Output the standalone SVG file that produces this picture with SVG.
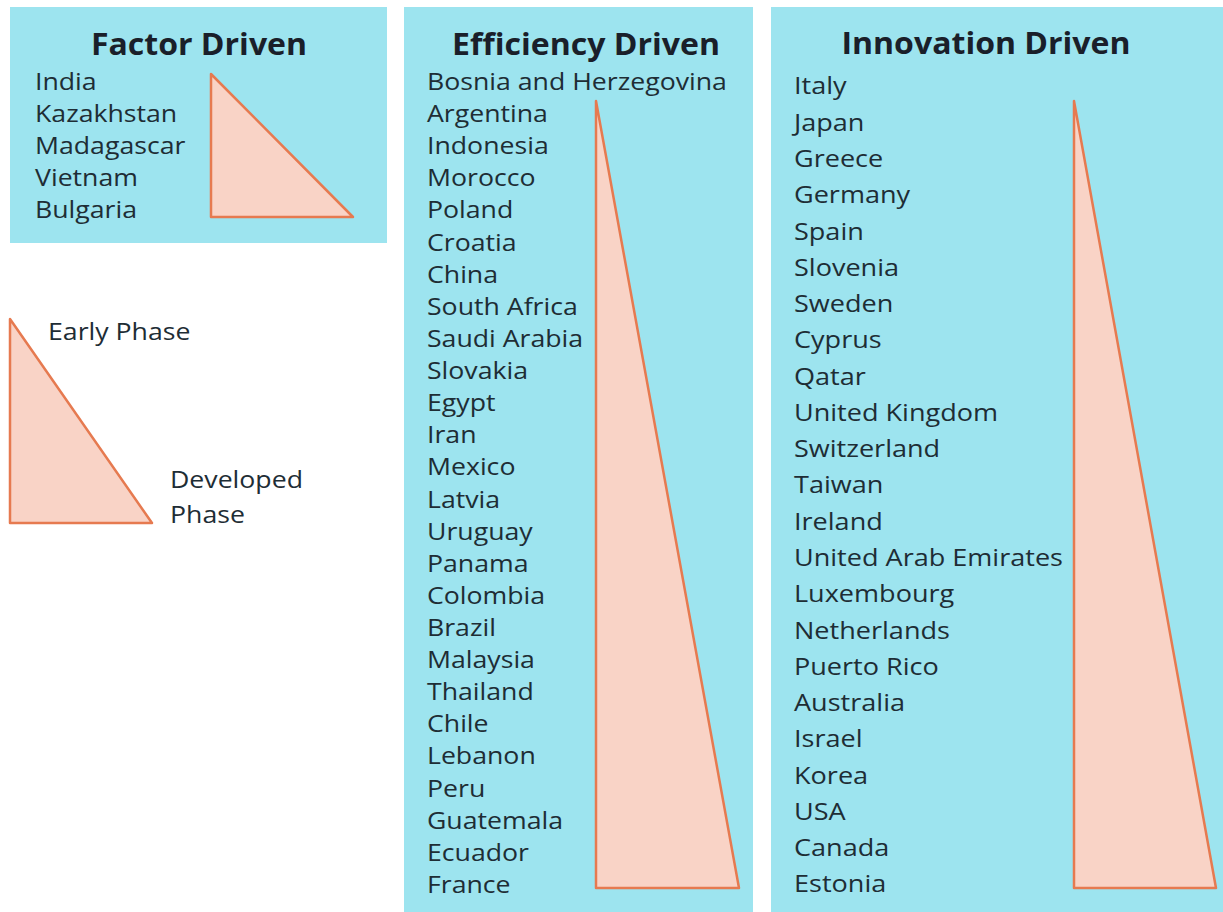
<svg xmlns="http://www.w3.org/2000/svg" width="1223" height="912" viewBox="0 0 1223 912">
<style>
.box{fill:#9de4ef}
.tri{fill:#f9d3c6;stroke:#e67a50;stroke-width:2.5;stroke-linejoin:round}
.t{font-family:"Open Sans","Noto Sans","DejaVu Sans",sans-serif;font-size:23.5px;fill:#1e2d35}
.ti{font-family:"Open Sans","Noto Sans","DejaVu Sans",sans-serif;font-size:24.5px;fill:#1e2d35}
.h{font-family:"Open Sans","Noto Sans","DejaVu Sans",sans-serif;font-size:30.5px;font-weight:bold;fill:#1a1f2a;text-anchor:middle}
</style>
<rect width="1223" height="912" fill="#ffffff"/>
<g id="factor">
<rect class="box" x="10" y="7" width="377" height="236"/>
<text class="h" transform="scale(1.05,1)" x="189.52" y="55">Factor Driven</text>
<polygon class="tri" points="211,74 211,217 353,217"/>
<g transform="scale(1.135,1)">
<text class="t" x="30.84" y="90.5">India</text>
<text class="t" x="30.84" y="122.5">Kazakhstan</text>
<text class="t" x="30.84" y="154.5">Madagascar</text>
<text class="t" x="30.84" y="186.5">Vietnam</text>
<text class="t" x="30.84" y="218.5">Bulgaria</text>
</g>
</g>
<g id="legend">
<polygon class="tri" points="10,319 10,523 152,523"/>
<g transform="scale(1.135,1)">
<text class="t" x="42.29" y="340">Early Phase</text>
<text class="t" x="149.78" y="488">Developed</text>
<text class="t" x="149.78" y="523">Phase</text>
</g>
</g>
<g id="efficiency">
<rect class="box" x="404" y="7" width="349" height="905"/>
<text class="h" transform="scale(1.05,1)" x="558.1" y="55">Efficiency Driven</text>
<polygon class="tri" points="596,101 596,888 739,888"/>
<g transform="scale(1.135,1)">
<text class="t" x="376.21" y="90">Bosnia and Herzegovina</text>
<text class="t" x="376.21" y="122.1">Argentina</text>
<text class="t" x="376.21" y="154.2">Indonesia</text>
<text class="t" x="376.21" y="186.4">Morocco</text>
<text class="t" x="376.21" y="218.5">Poland</text>
<text class="t" x="376.21" y="250.6">Croatia</text>
<text class="t" x="376.21" y="282.7">China</text>
<text class="t" x="376.21" y="314.8">South Africa</text>
<text class="t" x="376.21" y="347">Saudi Arabia</text>
<text class="t" x="376.21" y="379.1">Slovakia</text>
<text class="t" x="376.21" y="411.2">Egypt</text>
<text class="t" x="376.21" y="443.3">Iran</text>
<text class="t" x="376.21" y="475.4">Mexico</text>
<text class="t" x="376.21" y="507.6">Latvia</text>
<text class="t" x="376.21" y="539.7">Uruguay</text>
<text class="t" x="376.21" y="571.8">Panama</text>
<text class="t" x="376.21" y="603.9">Colombia</text>
<text class="t" x="376.21" y="636">Brazil</text>
<text class="t" x="376.21" y="668.2">Malaysia</text>
<text class="t" x="376.21" y="700.3">Thailand</text>
<text class="t" x="376.21" y="732.4">Chile</text>
<text class="t" x="376.21" y="764.5">Lebanon</text>
<text class="t" x="376.21" y="796.6">Peru</text>
<text class="t" x="376.21" y="828.8">Guatemala</text>
<text class="t" x="376.21" y="860.9">Ecuador</text>
<text class="t" x="376.21" y="893">France</text>
</g>
</g>
<g id="innovation">
<rect class="box" x="771" y="7" width="452" height="905"/>
<text class="h" transform="scale(1.05,1)" x="939.05" y="54">Innovation Driven</text>
<polygon class="tri" points="1074,101 1074,888 1216,888"/>
<g transform="scale(1.105,1)">
<text class="ti" x="718.55" y="94.5">Italy</text>
<text class="ti" x="718.55" y="130.8">Japan</text>
<text class="ti" x="718.55" y="167">Greece</text>
<text class="ti" x="718.55" y="203.3">Germany</text>
<text class="ti" x="718.55" y="239.6">Spain</text>
<text class="ti" x="718.55" y="275.9">Slovenia</text>
<text class="ti" x="718.55" y="312.1">Sweden</text>
<text class="ti" x="718.55" y="348.4">Cyprus</text>
<text class="ti" x="718.55" y="384.7">Qatar</text>
<text class="ti" x="718.55" y="421">United Kingdom</text>
<text class="ti" x="718.55" y="457.2">Switzerland</text>
<text class="ti" x="718.55" y="493.5">Taiwan</text>
<text class="ti" x="718.55" y="529.8">Ireland</text>
<text class="ti" x="718.55" y="566">United Arab Emirates</text>
<text class="ti" x="718.55" y="602.3">Luxembourg</text>
<text class="ti" x="718.55" y="638.6">Netherlands</text>
<text class="ti" x="718.55" y="674.9">Puerto Rico</text>
<text class="ti" x="718.55" y="711.1">Australia</text>
<text class="ti" x="718.55" y="747.4">Israel</text>
<text class="ti" x="718.55" y="783.7">Korea</text>
<text class="ti" x="718.55" y="820">USA</text>
<text class="ti" x="718.55" y="856.2">Canada</text>
<text class="ti" x="718.55" y="892.5">Estonia</text>
</g>
</g>
<g id="connectors"></g>
</svg>
